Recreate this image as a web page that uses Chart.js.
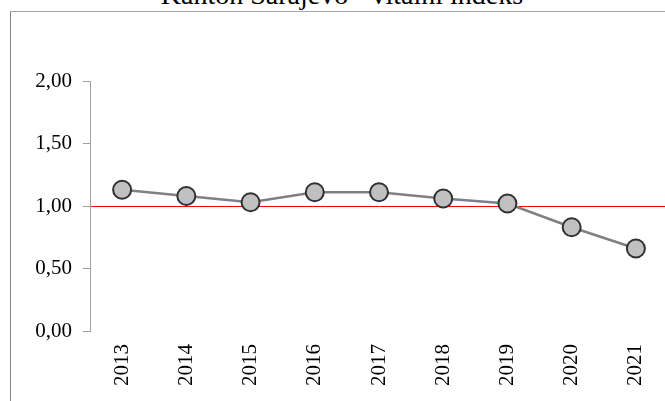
<!DOCTYPE html>
<html>
<head>
<meta charset="utf-8">
<title>Kanton Sarajevo - vitalni indeks</title>
<script src="https://cdn.jsdelivr.net/npm/chart.js@4/dist/chart.umd.min.js"></script>
<style>
  html, body { margin: 0; padding: 0; background: #fff; }
  body { width: 665px; height: 401px; overflow: hidden; position: relative; }
  #naslov {
    position: absolute; left: 0; top: -19px; width: 684px;
    text-align: center; font: 28px/28px "Liberation Serif", "Times New Roman", serif; color: #000;
  }
  #okvir {
    position: absolute; left: 10px; top: 11px; width: 720px; height: 450px;
    border-top: 1px solid #a6a6a6; border-left: 1px solid #858585;
  }
  #grafik { position: absolute; left: 0; top: 0; }
</style>
</head>
<body>
<div id="okvir"></div>
<div id="naslov">Kanton Sarajevo - vitalni indeks</div>
<canvas id="grafik" width="700" height="420"></canvas>
<script>
// Podaci
const godine = ["2013", "2014", "2015", "2016", "2017", "2018", "2019", "2020", "2021"];
const vitalniIndeks = [1.13, 1.08, 1.03, 1.11, 1.11, 1.06, 1.02, 0.83, 0.66];
const yOznake = [0, 0.5, 1, 1.5, 2];
const granica = 1; // crvena linija

window.addEventListener("load", () => {
  const font = { family: '"Liberation Serif", "Times New Roman", serif', size: 21 };

  new Chart(document.getElementById("grafik"), {
    type: 'line',
    data: {
      labels: godine,
      datasets: [{
        label: "Vitalni indeks",
        data: vitalniIndeks,
        borderColor: "#808080",
        borderWidth: 2.5,
        backgroundColor: "#c0c0c0",
        pointBackgroundColor: "#c0c0c0",
        pointBorderColor: "#303030",
        pointBorderWidth: 2,
        pointRadius: 9,
        pointHoverRadius: 9,
        tension: 0
      }]
    },
    options: {
      responsive: false,
      animation: false,
      devicePixelRatio: 1,
      layout: { padding: { left: 0, top: 81, right: 32, bottom: 29 } },
      plugins: {
        legend: { display: false },
        title: { display: false },
        tooltip: { enabled: false }
      },
      scales: {
        x: {
          offset: true,
          grid: { display: false, drawTicks: false },
          border: { display: false },
          ticks: {
            color: "#000",
            font: font,
            minRotation: 90,
            maxRotation: 90,
            autoSkip: false,
            padding: 13
          },
          afterFit: (s) => { s.height = 60; }
        },
        y: {
          min: yOznake[0],
          max: yOznake[yOznake.length - 1],
          afterBuildTicks: (s) => { s.ticks = yOznake.map(v => ({ value: v })); },
          grid: {
            drawOnChartArea: true,
            drawTicks: true,
            tickLength: 7,
            lineWidth: 1,
            color: (c) => (c.tick && c.tick.value === granica) ? "#ff0000" : "rgba(0,0,0,0)",
            tickColor: "#a0a0a0"
          },
          border: { display: true, color: "#a0a0a0", width: 1 },
          ticks: {
            color: "#000",
            font: font,
            padding: 11,
            callback: (v) => Number(v).toFixed(2).replace(".", ",")
          },
          afterFit: (s) => { s.width = 90; }
        }
      }
    }
  });
});
</script>
</body>
</html>
